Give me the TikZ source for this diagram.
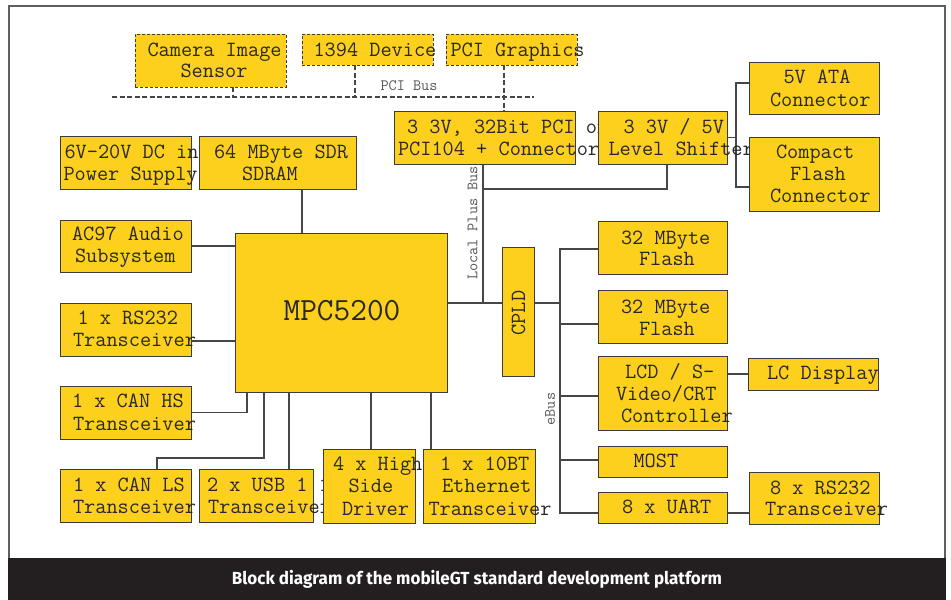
\documentclass[tikz,border=0pt]{standalone}
\usepackage{fontspec}
\usepackage{graphicx}
\newfontfamily\capf{Fira Sans}
\usetikzlibrary{backgrounds}
\definecolor{boxyellow}{RGB}{253,208,30}
\definecolor{boxline}{RGB}{60,60,60}
\definecolor{txtgray}{RGB}{40,40,40}
\definecolor{linegray}{RGB}{70,70,70}
\definecolor{labgray}{RGB}{85,85,85}
\definecolor{framegray}{RGB}{95,95,95}
\definecolor{bargray}{RGB}{35,31,32}
\tikzset{
  box/.style={draw=boxline, fill=boxyellow, line width=1pt, inner sep=0pt, outer sep=0pt, rectangle},
  dbox/.style={box, dash pattern=on 3pt off 2pt},
  btxt/.style={anchor=base west, inner sep=0pt, outer sep=0pt, font=\ttfamily\fontsize{21.7}{21.7}\selectfont, text=txtgray},
  conn/.style={draw=linegray, line width=1.2pt},
  dconn/.style={conn, dash pattern=on 5pt off 2.5pt},
  smalllab/.style={inner sep=0pt, outer sep=0pt, font=\ttfamily\fontsize{15.8}{16}\selectfont, text=labgray},
}
\newcommand\blk[6][box]{\node[#1, minimum width={(#5-#3)*1pt}, minimum height={(#6-#4)*1pt}, anchor=north west] (#2) at (#3,#4) {};}
\newcommand\tl[4]{\node[btxt] (#1) at (#2,#3) {#4};}
\begin{document}
\begin{tikzpicture}[x=1pt,y=-1pt]
\useasboundingbox (0,0) rectangle (951,600);
% frame and caption bar
\draw[draw=framegray, line width=1.5pt] (9,558) -- (9,6) -- (945,6) -- (945,558);
\fill[bargray] (8,558) rectangle (946,600);
\node[text=white, font=\capf\bfseries\fontsize{17.5}{20}\selectfont, anchor=base, inner sep=0pt] (cap) at (477,584)
  {\resizebox{490pt}{\height}{Block diagram of the mobileGT standard development platform}};

% boxes and texts
\blk[dbox]{cam}{135}{34}{286}{87}
\tl{cam1}{147.5}{56}{Camera Image}
\tl{cam2}{180.5}{77.7}{Sensor}
\blk[dbox]{dev}{302}{34}{433}{65}
\tl{dev1}{313.5}{56}{1394 Device}
\blk[dbox]{pcig}{446}{34}{577}{65}
\tl{pcig1}{450.5}{56}{PCI Graphics}

\blk{sdram}{199}{136}{356}{189}
\tl{sdram1}{214}{158.3}{64 MByte SDR}
\tl{sdram2}{242}{180}{SDRAM}
\blk{pwr}{60}{136}{191}{189}
\tl{pwr1}{64.5}{158.3}{6V-20V DC in}
\tl{pwr2}{63.5}{180}{Power Supply}

\blk{pci104}{394}{111}{575}{164}
\tl{pci1}{407}{133.3}{3 3V, 32Bit PCI or}
\tl{pci2}{398}{155}{PCI104 + Connector}
\blk{lvl}{598}{111}{727}{164}
\tl{lvl1}{623.5}{133.3}{3 3V / 5V}
\tl{lvl2}{608.5}{155}{Level Shifter}
\blk{ata}{749}{62}{879}{114}
\tl{ata1}{783.5}{83.3}{5V ATA}
\tl{ata2}{770}{106}{Connector}
\blk{cf}{749}{137}{879}{211}
\tl{cf1}{776}{158.3}{Compact}
\tl{cf2}{790}{180}{Flash}
\tl{cf3}{770}{202.3}{Connector}

\blk{ac97}{60}{220}{191}{272}
\tl{ac1}{72}{240.7}{AC97 Audio}
\tl{ac2}{75}{262.7}{Subsystem}
\blk{rs1}{60}{303}{191}{356}
\tl{rs11}{77.5}{324}{1 x RS232}
\tl{rs12}{73}{346.7}{Transceiver}
\blk{canhs}{60}{386}{191}{439}
\tl{canhs1}{72}{407.3}{1 x CAN HS}
\tl{canhs2}{73}{430}{Transceiver}
\blk{canls}{60}{469}{191}{522}
\tl{canls1}{73}{491.7}{1 x CAN LS}
\tl{canls2}{73}{513.3}{Transceiver}
\blk{usb}{199}{469}{313}{522}
\tl{usb1}{207}{491.7}{2 x USB 1 1}
\tl{usb2}{208}{513.3}{Transceiver}
\blk{hsd}{323}{449}{415}{523}
\tl{hsd1}{333}{470}{4 x High}
\tl{hsd2}{348.5}{492.7}{Side}
\tl{hsd3}{342}{515}{Driver}
\blk{eth}{423}{449}{535}{523}
\tl{eth1}{440}{470}{1 x 10BT}
\tl{eth2}{442}{492.7}{Ethernet}
\tl{eth3}{428.5}{515}{Transceiver}

\blk{mpc}{235}{233}{447}{392}
\node[font=\ttfamily\fontsize{32.4}{33}\selectfont, text=txtgray, anchor=base, inner sep=0pt] (mpct) at (342,320.7) {MPC5200};
\blk{cpld}{502}{247}{534}{376}
\node[font=\ttfamily\fontsize{21.7}{21.7}\selectfont, text=txtgray, rotate=90, inner sep=0pt] (cpldt) at (518.5,313) {CPLD};

\blk{fl1}{598}{221}{727}{274}
\tl{fl11}{621}{244.3}{32 MByte}
\tl{fl12}{639}{265.7}{Flash}
\blk{fl2}{598}{290}{727}{343}
\tl{fl21}{621}{313.3}{32 MByte}
\tl{fl22}{639}{335}{Flash}
\blk{lcd}{598}{356}{727}{430}
\tl{lcd1}{625}{378.3}{LCD / S-}
\tl{lcd2}{616}{400.7}{Video/CRT}
\tl{lcd3}{621}{422.3}{Controller}
\blk{lcdisp}{748}{358}{878}{390}
\tl{lcdisp1}{767}{379}{LC Display}
\blk{most}{598}{446}{727}{477}
\tl{most1}{633.5}{467.3}{MOST}
\blk{uart}{598}{492}{727}{523}
\tl{uart1}{622}{513.3}{8 x UART}
\blk{rs8}{749}{472}{879}{524}
\tl{rs81}{770}{494}{8 x RS232}
\tl{rs82}{765}{515.7}{Transceiver}

% bus labels
\node[smalllab, anchor=base west] (pcibus) at (380.5,90) {PCI Bus};
\node[smalllab, rotate=90] (lpbl) at (472.5,223) {Local Plus Bus};
\node[smalllab, rotate=90] (ebusl) at (550,409) {eBus};

% connectors
\begin{scope}[on background layer]
\coordinate (busL) at (112,97);
\coordinate (busR) at (534,97);
\draw[dconn] (busL) -- (busR);
\coordinate (camB) at ([xshift=22.5pt]cam.south);
\draw[dconn] (camB) -- (camB |- busL);
\coordinate (devB) at ([xshift=-12.5pt]dev.south);
\draw[dconn] (devB) -- (devB |- busL);
\coordinate (pcigB) at ([xshift=-7.5pt]pcig.south);
\draw[dconn] (pcigB) -- (pcigB |- pci104.north);

\coordinate (sdrB) at ([xshift=24.5pt]sdram.south);
\draw[conn] (sdrB) -- (sdrB |- mpc.north);
\draw[conn] (ac97.east) -- (ac97.east -| mpc.west);
\coordinate (rs1E) at ([yshift=-11.5pt]rs1.east);
\draw[conn] (rs1E) -- (rs1E -| mpc.west);
\draw[conn] (canhs.east) -| ([xshift=12pt]mpc.south west);
\draw[conn] ([xshift=31.5pt]canls.north) -- ++(0pt,11pt) -| ([xshift=29pt]mpc.south west);
\coordinate (usbT) at ([xshift=33pt]usb.north);
\draw[conn] (usbT) -- (usbT |- mpc.south);
\coordinate (hsdT) at ([xshift=2pt]hsd.north);
\draw[conn] (hsdT) -- (hsdT |- mpc.south);
\coordinate (ethT) at ([xshift=-48pt]eth.north);
\draw[conn] (ethT) -- (ethT |- mpc.south);

\coordinate (mpcR) at ([yshift=9.5pt]mpc.east);
\draw[conn] (mpcR) -- (mpcR -| cpld.west);
\coordinate (lpbT) at ([xshift=-1.5pt]pci104.south);
\draw[conn] (lpbT) -- (lpbT |- mpcR);
\coordinate (lvlB) at ([xshift=4.5pt]lvl.south);
\draw[conn] (lvlB) -- ++(0pt,-25pt) -| (lpbT);
\coordinate (lvlJ) at ([xshift=9pt]lvl.east);
\draw[conn] (lvl.east) -- (lvlJ);
\draw[conn] ([yshift=5pt]ata.west) -| (lvlJ) |- ([yshift=-13pt]cf.west);

\coordinate (cpldR) at ([yshift=8.5pt]cpld.east);
\coordinate (eb) at ([xshift=26pt]cpldR);
\draw[conn] (cpldR) -- (eb);
\coordinate (uartW) at ([yshift=-5.5pt]uart.west);
\draw[conn] ([yshift=-1.5pt]fl1.west) -| (eb |- uartW) -- (uartW);
\coordinate (fl2W) at ([yshift=-7.5pt]fl2.west);
\draw[conn] (fl2W) -- (fl2W -| eb);
\coordinate (lcdW) at ([yshift=-3pt]lcd.west);
\draw[conn] (lcdW) -- (lcdW -| eb);
\coordinate (mostW) at ([yshift=1.5pt]most.west);
\draw[conn] (mostW) -- (mostW -| eb);
\draw[conn] (lcdisp.west) -- (lcdisp.west -| lcd.east);
\coordinate (uartE) at ([yshift=-5.5pt]uart.east);
\draw[conn] (uartE) -- (uartE -| rs8.west);
\end{scope}
\end{tikzpicture}
\end{document}
